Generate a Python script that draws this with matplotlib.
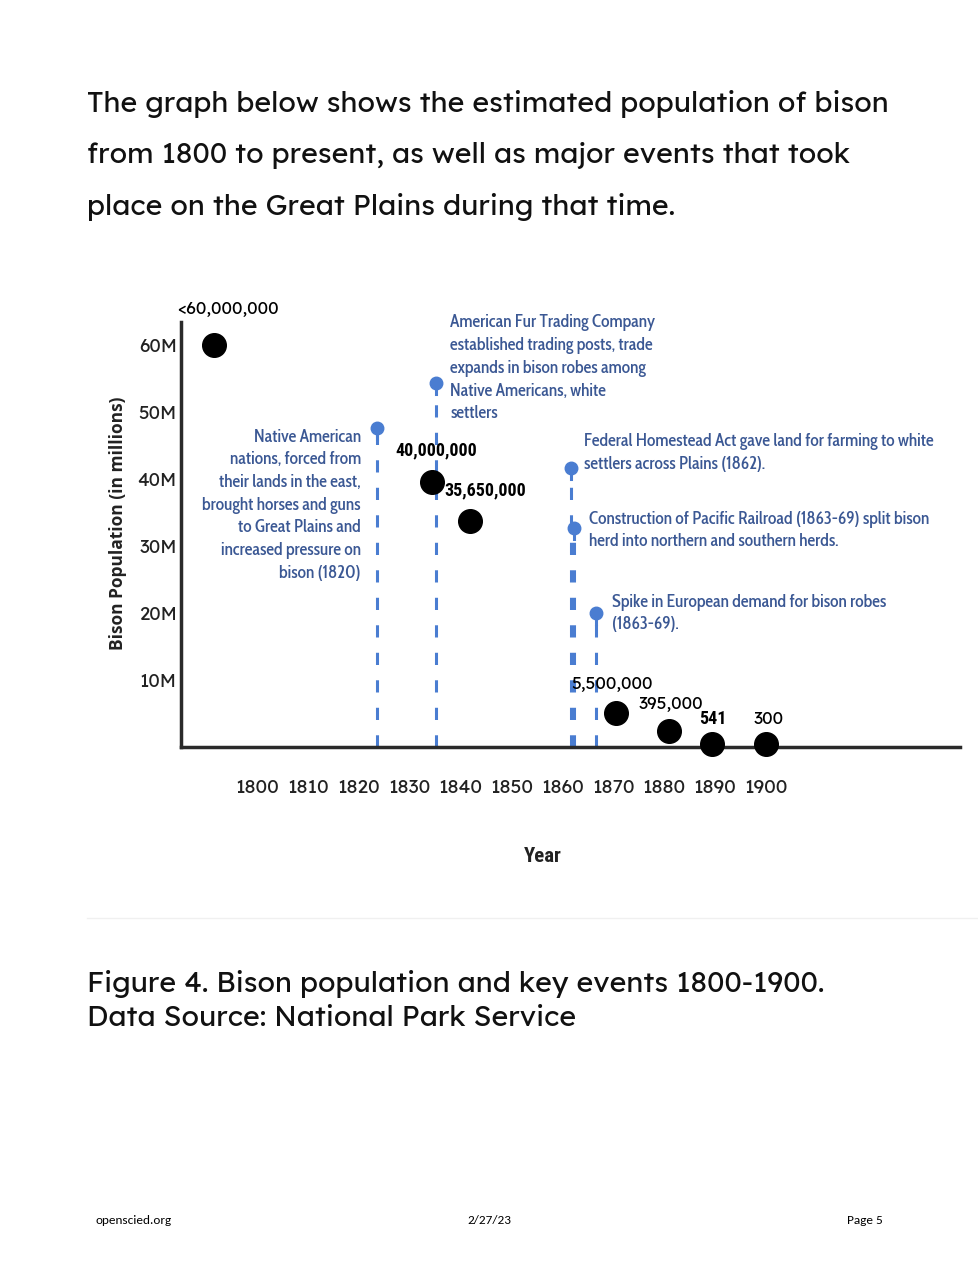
import matplotlib.pyplot as plt

# bison population dots (x = year position, height as drawn in millions)
pop_years = [1791.6, 1834.4, 1841.8, 1870.5, 1880.9, 1889.4, 1900.0]
pop_drawn = [60.0, 39.6, 33.7, 5.1, 2.4, 0.4, 0.4]
pop_labels = ['<60,000,000', '40,000,000', '35,650,000', '5,500,000', '395,000', '541', '300']

# key events (pins)
event_years = [1823.6, 1835.2, 1861.7, 1862.3, 1866.6]
event_tops = [47.6, 54.3, 41.6, 32.7, 20.0]
event_texts = [
    'Native American\nnations, forced from\ntheir lands in the east,\nbrought horses and guns\n'
    'to Great Plains and\nincreased pressure on\nbison (1820)',
    'American Fur Trading Company\nestablished trading posts, trade\nexpands in bison robes among\n'
    'Native Americans, white\nsettlers',
    'Federal Homestead Act gave land for farming to white\nsettlers across Plains (1862).',
    'Construction of Pacific Railroad (1863-69) split bison\nherd into northern and southern herds.',
    'Spike in European demand for bison robes\n(1863-69).',
]

year_ticks = [1800, 1810, 1820, 1830, 1840, 1850, 1860, 1870, 1880, 1890, 1900]
pop_ticks = [10, 20, 30, 40, 50, 60]
pop_tick_labels = ['10M', '20M', '30M', '40M', '50M', '60M']

body_lines = ['The graph below shows the estimated population of bison',
              'from 1800 to present, as well as major events that took',
              'place on the Great Plains during that time.']
caption_lines = ['Figure 4. Bison population and key events 1800-1900.',
                 'Data Source: National Park Service']

W, H = 979, 1266
BLUE = '#4a7dd1'
TBLUE = '#3b5894'
LEX = ['Lexend', 'Lato', 'DejaVu Sans']
CABIN = ['Cabin Condensed', 'Roboto Condensed', 'DejaVu Sans']
NARROW = ['Roboto Condensed', 'DejaVu Sans']
CAL = ['Carlito', 'Liberation Sans', 'DejaVu Sans']


def px(x, y):
    return x / W, 1 - y / H


fig = plt.figure(figsize=(W / 100, H / 100), dpi=100)

# page text
for i, line in enumerate(body_lines):
    fig.text(*px(87, 104 + 51.5 * i), line, fontsize=20.6, family=LEX, va='center', ha='left',
             color='#111111')

ax = fig.add_axes([181 / W, 1 - 747 / H, (960 - 181) / W, (747 - 300) / H])
ax.set_xlim(1785.07, 1938.1)
ax.set_ylim(0, 66.7)

for s in ['top', 'right']:
    ax.spines[s].set_visible(False)
for s in ['left', 'bottom']:
    ax.spines[s].set_linewidth(2.5)
    ax.spines[s].set_color('#2a2a2a')
ax.spines['left'].set_bounds(0, 63.4)

ax.set_xticks(year_ticks)
ax.set_xticklabels([str(y) for y in year_ticks], family=LEX, fontsize=13.8, color='#222222')
ax.set_yticks(pop_ticks)
ax.set_yticklabels(pop_tick_labels, family=LEX, fontsize=13.5, color='#222222')
ax.tick_params(axis='x', length=0, pad=23)
ax.tick_params(axis='y', length=0, pad=3)

# event pins
for x, top in zip(event_years, event_tops):
    ax.plot([x, x], [0, top], color=BLUE, lw=2.2, dashes=(4, 5), zorder=2)
    ax.plot([x, x], [top - 1.6, top], color=BLUE, lw=2.2, zorder=2)
    ax.plot(x, top, 'o', color=BLUE, ms=9, zorder=3)

# population dots
ax.plot(pop_years, pop_drawn, 'o', color='black', ms=17, ls='none', zorder=4, clip_on=False)

# population labels
fig.text(*px(228, 309), pop_labels[0], family=LEX, fontsize=12.5, ha='center', va='center')
fig.text(*px(436, 450), pop_labels[1], family=NARROW, fontsize=13, weight='bold', ha='center', va='center')
fig.text(*px(444, 490), pop_labels[2], family=NARROW, fontsize=13, weight='bold', ha='left', va='center')
fig.text(*px(612, 684), pop_labels[3], family=LEX, fontsize=12.5, ha='center', va='center')
fig.text(*px(671, 704), pop_labels[4], family=LEX, fontsize=12.5, ha='center', va='center')
fig.text(*px(713, 719), pop_labels[5], family=NARROW, fontsize=13, weight='bold', ha='center', va='center')
fig.text(*px(769, 719), pop_labels[6], family=LEX, fontsize=12.5, ha='center', va='center')

# event labels
ev_pos = [(361, 437, 'right'), (450, 323, 'left'), (584, 442, 'left'), (589, 519, 'left'), (612, 602, 'left')]
for (x, y, ha), t in zip(ev_pos, event_texts):
    for j, line in enumerate(t.split('\n')):
        fig.text(*px(x, y + 22.7 * j), line, family=CABIN, fontsize=12.6, weight=500,
                 color=TBLUE, ha=ha, va='center')

# axis titles
fig.text(*px(118, 523), 'Bison Population (in millions)', family=['Open Sans', 'DejaVu Sans'],
         weight='bold', fontsize=12.5, rotation=90, ha='center', va='center', color='#222222')
fig.text(*px(543, 857), 'Year', family=NARROW, weight='bold', fontsize=15,
         ha='center', va='center', color='#222222')

# separator, caption, footer
fig.add_artist(plt.Line2D([87 / W, 1.0], [1 - 918 / H] * 2, color='#f0f0f0', lw=1))
for i, line in enumerate(caption_lines):
    fig.text(*px(87, 984 + 35 * i), line, family=LEX, fontsize=20.6, ha='left', va='center',
             color='#111111')
fig.text(*px(95, 1221), 'openscied.org', family=CAL, fontsize=9.5, ha='left', va='center')
fig.text(*px(489, 1221), '2/27/23', family=CAL, fontsize=9.5, ha='center', va='center')
fig.text(*px(883, 1221), 'Page 5', family=CAL, fontsize=9.5, ha='right', va='center')

fig.savefig('out.png', dpi=100)
